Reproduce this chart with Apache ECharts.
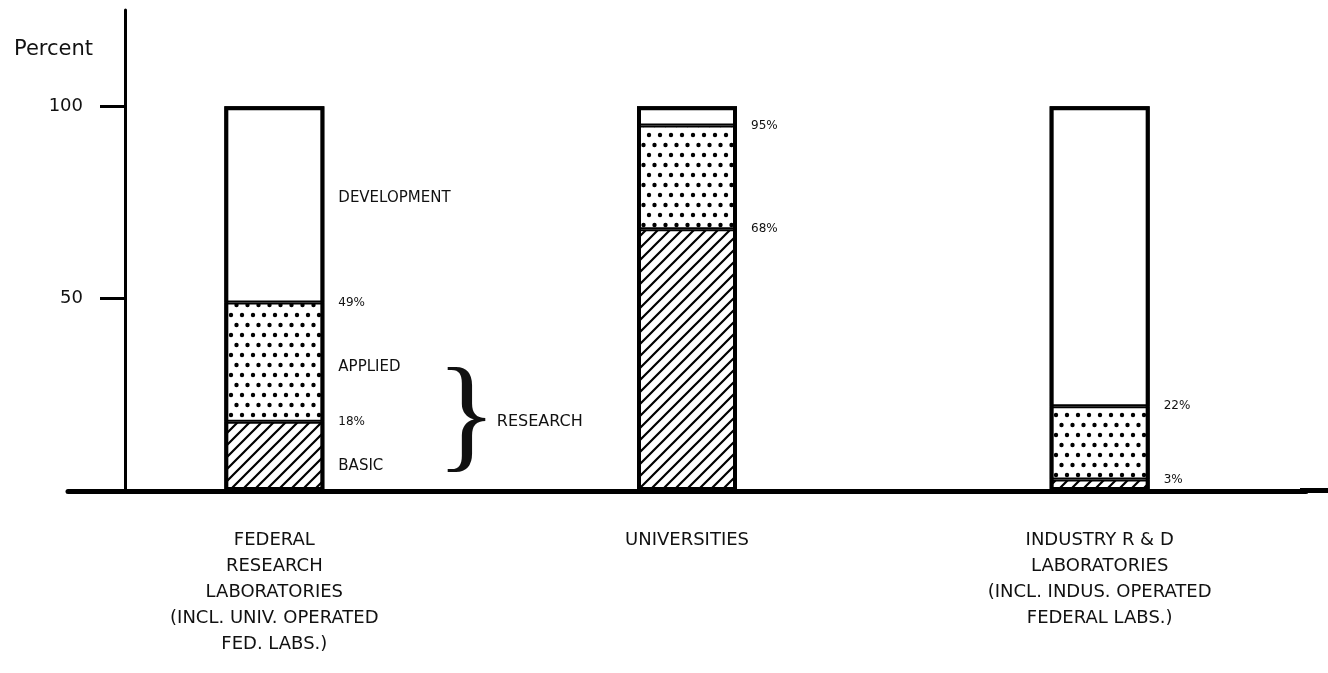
<!DOCTYPE html>
<html>
<head>
<meta charset="utf-8">
<title>R&amp;D character of work by performer</title>
<script src="https://cdn.jsdelivr.net/npm/echarts@6.0.0/dist/echarts.min.js"></script>
<style>
  html, body { margin: 0; padding: 0; background: #fff; }
  #chart { width: 1328px; height: 673px; }
</style>
</head>
<body>
<div id="chart"></div>
<script>
const categories = [
  'FEDERAL\nRESEARCH\nLABORATORIES\n(INCL. UNIV. OPERATED\nFED. LABS.)',
  'UNIVERSITIES',
  'INDUSTRY R & D\nLABORATORIES\n(INCL. INDUS. OPERATED\nFEDERAL LABS.)'
];
const basic = [18, 68, 3];
const applied = [31, 27, 19];
const development = [51, 5, 78];
const segmentNames = ['BASIC', 'APPLIED', 'DEVELOPMENT'];
const yTicks = [50, 100];

const FONT = 'DejaVu Sans';
const INK = '#111';

// hatch "/" for basic research
function hatchPattern() {
  const c = document.createElement('canvas');
  c.width = 12; c.height = 12;
  const ctx = c.getContext('2d');
  ctx.fillStyle = '#fff';
  ctx.fillRect(0, 0, 12, 12);
  ctx.strokeStyle = '#000';
  ctx.lineWidth = 2.2;
  ctx.beginPath();
  ctx.moveTo(-3, 15); ctx.lineTo(15, -3);
  ctx.moveTo(-3, 3); ctx.lineTo(3, -3);
  ctx.moveTo(9, 15); ctx.lineTo(15, 9);
  ctx.stroke();
  return c;
}

// staggered dots for applied research
function dotPattern() {
  const c = document.createElement('canvas');
  c.width = 22; c.height = 20;
  const ctx = c.getContext('2d');
  ctx.fillStyle = '#fff';
  ctx.fillRect(0, 0, 22, 20);
  ctx.fillStyle = '#000';
  [[5.5, 5], [16.5, 5], [0, 15], [11, 15], [22, 15]].forEach(([x, y]) => {
    ctx.beginPath();
    ctx.arc(x, y, 2.2, 0, Math.PI * 2);
    ctx.fill();
  });
  return c;
}

const fills = [
  { image: hatchPattern(), repeat: 'repeat' },
  { image: dotPattern(), repeat: 'repeat' },
  '#fff'
];
const segments = [basic, applied, development];

// running totals: top of basic, top of applied, whole bar
const cumulative = i => segments.slice(0, i + 1).reduce((a, s) => a.map((v, k) => v + s[k]), [0, 0, 0]);

const mainSeries = segments.map((data, i) => {
  const s = {
    name: segmentNames[i],
    type: 'bar',
    stack: 'share',
    data: data,
    barWidth: 100,
    barGap: '-100%',
    itemStyle: { color: fills[i], borderColor: '#000', borderWidth: 2 }
  };
  if (i < 2) {
    const tops = cumulative(i);
    s.label = {
      show: true,
      position: [114, 0],
      align: 'left',
      verticalAlign: 'middle',
      color: INK,
      fontFamily: 'Liberation Serif',
      fontSize: 126,
      formatter: p => {
        const pct = '{p|' + tops[p.dataIndex] + '%}';
        if (i === 0 && p.dataIndex === 0) return pct + '}{r|RESEARCH}';
        return pct;
      },
      rich: {
        p: { fontFamily: FONT, fontSize: 12, color: INK, width: 98 },
        r: { fontFamily: FONT, fontSize: 16, color: INK }
      }
    };
  }
  return s;
});

// outline of each whole bar
const outlineSeries = {
  name: 'total',
  type: 'bar',
  data: cumulative(2),
  barWidth: 100,
  barGap: '-100%',
  silent: true,
  z: 3,
  itemStyle: { color: 'rgba(0,0,0,0)', borderColor: '#000', borderWidth: 4 }
};

// invisible copy of the stack carrying the segment names of the first bar
const nameOffsets = [[0, 10], [0, 5], [0, -6]];
const nameSeries = segments.map((data, i) => ({
  name: segmentNames[i] + ' label',
  type: 'bar',
  stack: 'names',
  data: data,
  barWidth: 100,
  barGap: '-100%',
  silent: true,
  itemStyle: { color: 'rgba(0,0,0,0)' },
  label: {
    show: true,
    position: 'right',
    distance: 14,
    offset: nameOffsets[i],
    fontFamily: FONT,
    fontSize: 15,
    color: INK,
    formatter: p => p.dataIndex === 0 ? segmentNames[i] : ''
  }
}));

const chart = echarts.init(document.getElementById('chart'));
chart.setOption({
  animation: false,
  grid: { left: 68, right: 22, top: 10, bottom: 182, containLabel: false },
  xAxis: {
    type: 'category',
    data: categories,
    axisLine: { lineStyle: { color: '#000', width: 5 } },
    axisTick: { show: false },
    axisLabel: {
      interval: 0,
      margin: 36,
      fontFamily: FONT,
      fontSize: 18,
      lineHeight: 26,
      color: INK
    }
  },
  yAxis: {
    type: 'value',
    min: 0,
    max: 125,
    offset: -57,
    name: 'Percent',
    nameLocation: 'end',
    nameGap: -40,
    nameTextStyle: {
      fontFamily: FONT, fontSize: 21, color: INK,
      align: 'right', verticalAlign: 'middle', padding: [0, 32, 0, 0]
    },
    axisLine: { show: true, lineStyle: { color: '#000', width: 3 } },
    axisTick: { show: true, length: 25, customValues: yTicks, lineStyle: { color: '#000', width: 3 } },
    axisLabel: { customValues: yTicks, margin: 42, fontFamily: FONT, fontSize: 18, color: INK },
    splitLine: { show: false }
  },
  graphic: [{
    // baseline runs on past the plot to the page edge
    type: 'rect',
    left: 1300, top: 488,
    shape: { width: 28, height: 5 },
    style: { fill: '#000' }
  }],
  series: mainSeries.concat([outlineSeries], nameSeries)
});
</script>
</body>
</html>
